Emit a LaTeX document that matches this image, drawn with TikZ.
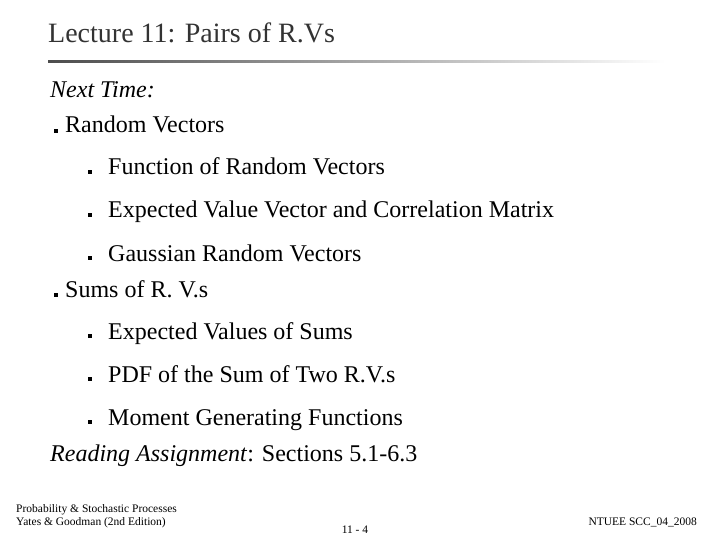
\documentclass[tikz,border=0pt]{standalone}
\usepackage{fontspec}
\setmainfont{Liberation Serif}
\begin{document}
\begin{tikzpicture}[x=1pt,y=-1pt,
  txt/.style={anchor=base west,inner sep=0pt,font=\fontsize{24}{28}\selectfont},
  bul/.style={fill=black,inner sep=0pt,minimum size=4.5pt},
  foot/.style={inner sep=0pt,font=\fontsize{11.5}{13}\selectfont}]
\useasboundingbox (0,0) rectangle (720,540);
\fill[white] (0,0) rectangle (720,540);
\node[txt,font=\fontsize{28}{32}\selectfont,text=black!80] (title) at (48,43) {Lecture 11: Pairs of R.Vs};
\shade[left color=black!70,right color=white] (48,61) rectangle (665,63);
\node[txt] (nt) at (50,98) {\itshape Next Time:};
\node[txt] (rv) at (65,133) {Random Vectors};
\node[bul] at (56,131) {};
\node[txt] (a1) at (108,175) {Function of Random Vectors};
\node[bul] at (90,172) {};
\node[txt] (a2) at (108,218) {Expected Value Vector and Correlation Matrix};
\node[bul] at (90,215) {};
\node[txt] (a3) at (108,261) {Gaussian Random Vectors};
\node[bul] at (90,258) {};
\node[txt] (sum) at (65,297) {Sums of R. V.s};
\node[bul] at (56,295) {};
\node[txt] (b1) at (108,339) {Expected Values of Sums};
\node[bul] at (90,336) {};
\node[txt] (b2) at (108,382) {PDF of the Sum of Two R.V.s};
\node[bul] at (90,379) {};
\node[txt] (b3) at (108,425) {Moment Generating Functions};
\node[bul] at (90,422) {};
\node[txt] (ra) at (50,461) {\itshape Reading Assignment\/\upshape: Sections 5.1-6.3};
\node[foot,anchor=base west] (f1) at (16,512) {Probability \& Stochastic Processes};
\node[foot,anchor=base west] (f2) at (16,525) {Yates \& Goodman (2nd Edition)};
\node[foot,anchor=base] (pg) at (355,533) {11 - 4};
\node[foot,anchor=base east] (f3) at (697,525) {NTUEE SCC\_04\_2008};
\end{tikzpicture}
\end{document}
